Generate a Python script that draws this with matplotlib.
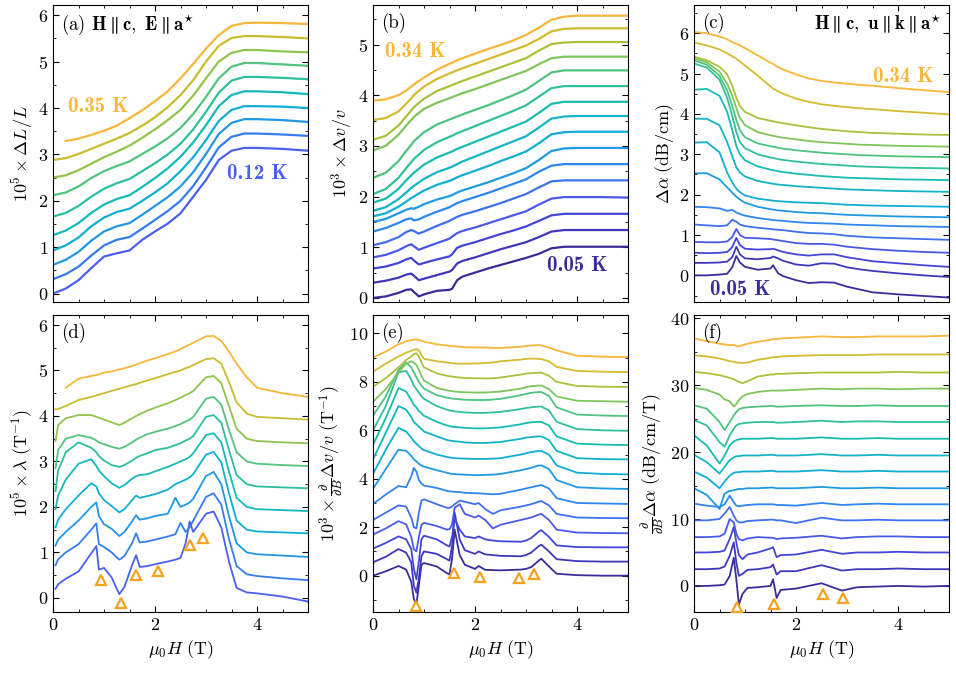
import numpy as np
import matplotlib
matplotlib.use("Agg")
import matplotlib.pyplot as plt
from matplotlib.colors import LinearSegmentedColormap
from matplotlib.ticker import MultipleLocator

nan = np.nan

# ---------------- panel (a): magnetostriction, 0.12 K ... 0.35 K
a_field = [0, 0.25, 0.5, 0.75, 1.0, 1.25, 1.5, 1.75, 2.0, 2.25, 2.5, 2.75, 3.0, 3.25, 3.5, 3.75, 4.0, 4.5, 5.0]
a_curves = [
    [0.00, 0.11, 0.29, 0.55, 0.80, 0.87, 0.93, 1.16, 1.34, 1.51, 1.73, 2.09, 2.45, 2.88, 3.08, 3.14, 3.14, 3.12, 3.08],
    [0.31, 0.42, 0.58, 0.82, 1.04, 1.16, 1.22, 1.40, 1.59, 1.78, 2.00, 2.32, 2.72, 3.15, 3.38, 3.45, 3.45, 3.43, 3.40],
    [0.62, 0.73, 0.90, 1.14, 1.34, 1.45, 1.52, 1.70, 1.89, 2.08, 2.31, 2.62, 3.01, 3.44, 3.68, 3.76, 3.76, 3.74, 3.70],
    [0.93, 1.04, 1.21, 1.45, 1.64, 1.76, 1.83, 2.00, 2.18, 2.38, 2.64, 2.94, 3.31, 3.72, 3.96, 4.04, 4.04, 4.03, 4.00],
    [1.26, 1.36, 1.52, 1.74, 1.92, 2.04, 2.12, 2.30, 2.49, 2.70, 2.95, 3.26, 3.63, 4.04, 4.28, 4.36, 4.36, 4.34, 4.30],
    [1.66, 1.74, 1.89, 2.09, 2.26, 2.38, 2.47, 2.64, 2.81, 3.00, 3.23, 3.54, 3.92, 4.33, 4.59, 4.67, 4.67, 4.65, 4.62],
    [2.12, 2.18, 2.31, 2.49, 2.64, 2.75, 2.85, 3.01, 3.17, 3.35, 3.57, 3.87, 4.24, 4.64, 4.89, 4.97, 4.97, 4.94, 4.91],
    [2.50, 2.55, 2.66, 2.80, 2.94, 3.06, 3.19, 3.36, 3.54, 3.74, 3.96, 4.27, 4.64, 5.00, 5.19, 5.25, 5.25, 5.22, 5.20],
    [2.88, 2.92, 3.01, 3.12, 3.23, 3.34, 3.46, 3.62, 3.80, 4.02, 4.28, 4.60, 5.00, 5.34, 5.51, 5.55, 5.55, 5.53, 5.50],
    [nan, 3.29, 3.34, 3.42, 3.51, 3.62, 3.78, 3.95, 4.15, 4.36, 4.64, 4.95, 5.28, 5.57, 5.77, 5.83, 5.84, 5.83, 5.81],
]

# ---------------- panel (b): sound velocity, 0.05 K ... 0.34 K
b_field = [0, 0.25, 0.5, 0.65, 0.75, 0.8, 0.9, 1.0, 1.25, 1.5, 1.55, 1.65, 1.75, 2.0, 2.25, 2.5, 2.75, 3.0, 3.25, 3.5, 3.75, 4.0, 4.5, 5.0]
b_curves = [
    [0.00, 0.03, 0.10, 0.16, 0.17, 0.12, 0.03, 0.07, 0.14, 0.16, 0.18, 0.35, 0.42, 0.50, 0.58, 0.65, 0.72, 0.79, 0.87, 0.98, 1.01, 1.01, 1.01, 1.01],
    [0.30, 0.34, 0.40, 0.46, 0.48, 0.44, 0.35, 0.38, 0.45, 0.52, 0.55, 0.68, 0.73, 0.80, 0.88, 0.96, 1.03, 1.10, 1.20, 1.31, 1.34, 1.34, 1.34, 1.34],
    [0.58, 0.62, 0.69, 0.76, 0.79, 0.74, 0.66, 0.69, 0.76, 0.82, 0.86, 0.99, 1.03, 1.10, 1.18, 1.26, 1.33, 1.41, 1.52, 1.63, 1.66, 1.66, 1.66, 1.66],
    [0.80, 0.85, 0.94, 1.02, 1.06, 1.02, 0.95, 0.99, 1.08, 1.17, 1.21, 1.28, 1.32, 1.39, 1.47, 1.55, 1.63, 1.71, 1.84, 1.96, 1.99, 1.99, 1.99, 1.98],
    [1.04, 1.10, 1.20, 1.30, 1.34, 1.32, 1.27, 1.31, 1.42, 1.52, 1.55, 1.60, 1.64, 1.71, 1.79, 1.87, 1.96, 2.05, 2.18, 2.30, 2.32, 2.32, 2.32, 2.32],
    [1.31, 1.38, 1.48, 1.55, 1.57, 1.53, 1.55, 1.60, 1.70, 1.79, 1.82, 1.87, 1.91, 1.99, 2.07, 2.16, 2.25, 2.34, 2.49, 2.61, 2.64, 2.64, 2.64, 2.64],
    [1.50, 1.56, 1.67, 1.74, 1.77, 1.76, 1.80, 1.85, 1.94, 2.01, 2.03, 2.08, 2.12, 2.20, 2.28, 2.37, 2.46, 2.56, 2.72, 2.90, 2.95, 2.96, 2.96, 2.96],
    [1.61, 1.67, 1.80, 1.90, 1.97, 2.00, 2.06, 2.12, 2.23, 2.31, 2.33, 2.38, 2.42, 2.51, 2.60, 2.70, 2.79, 2.89, 3.05, 3.23, 3.27, 3.28, 3.28, 3.28],
    [1.72, 1.79, 1.95, 2.08, 2.17, 2.21, 2.28, 2.35, 2.48, 2.57, 2.59, 2.64, 2.69, 2.79, 2.89, 2.99, 3.09, 3.19, 3.36, 3.54, 3.58, 3.59, 3.59, 3.59],
    [1.88, 1.96, 2.15, 2.32, 2.42, 2.47, 2.55, 2.63, 2.77, 2.87, 2.89, 2.94, 2.98, 3.08, 3.18, 3.28, 3.38, 3.48, 3.65, 3.83, 3.87, 3.87, 3.87, 3.87],
    [2.05, 2.15, 2.37, 2.56, 2.68, 2.74, 2.83, 2.92, 3.07, 3.18, 3.20, 3.25, 3.29, 3.39, 3.49, 3.59, 3.69, 3.80, 3.97, 4.14, 4.18, 4.18, 4.18, 4.18],
    [2.37, 2.47, 2.70, 2.90, 3.02, 3.09, 3.18, 3.27, 3.42, 3.52, 3.54, 3.58, 3.62, 3.71, 3.80, 3.90, 4.00, 4.11, 4.28, 4.45, 4.49, 4.49, 4.49, 4.49],
    [2.91, 3.00, 3.22, 3.40, 3.51, 3.57, 3.65, 3.73, 3.85, 3.94, 3.96, 4.00, 4.04, 4.12, 4.21, 4.30, 4.39, 4.48, 4.61, 4.73, 4.76, 4.76, 4.76, 4.76],
    [3.12, 3.20, 3.40, 3.58, 3.70, 3.76, 3.85, 3.93, 4.08, 4.18, 4.20, 4.24, 4.28, 4.37, 4.46, 4.55, 4.64, 4.73, 4.88, 5.01, 5.04, 5.05, 5.05, 5.05],
    [3.51, 3.55, 3.68, 3.83, 3.94, 4.00, 4.09, 4.17, 4.32, 4.43, 4.45, 4.49, 4.53, 4.62, 4.71, 4.80, 4.89, 4.98, 5.11, 5.26, 5.31, 5.32, 5.32, 5.32],
    [3.89, 3.92, 4.00, 4.09, 4.17, 4.21, 4.28, 4.35, 4.50, 4.62, 4.64, 4.69, 4.73, 4.82, 4.91, 4.99, 5.08, 5.19, 5.33, 5.49, 5.55, 5.57, 5.57, 5.57],
]

# ---------------- panel (c): sound attenuation
c_field = [0, 0.25, 0.5, 0.65, 0.75, 0.83, 0.9, 1.0, 1.25, 1.5, 1.55, 1.65, 1.75, 2.0, 2.25, 2.5, 2.75, 3.0, 3.25, 3.5, 4.0, 4.5, 5.0]
c_curves = [
    [0.00, 0.00, 0.02, 0.04, 0.20, 0.48, 0.32, 0.21, 0.14, 0.17, 0.25, 0.05, -0.02, -0.12, -0.19, -0.17, -0.18, -0.28, -0.35, -0.42, -0.47, -0.51, -0.55],
    [0.31, 0.31, 0.32, 0.34, 0.45, 0.71, 0.52, 0.42, 0.40, 0.43, 0.47, 0.42, 0.36, 0.27, 0.24, 0.30, 0.29, 0.20, 0.15, 0.11, 0.05, 0.00, -0.04],
    [0.56, 0.55, 0.56, 0.58, 0.70, 0.93, 0.75, 0.66, 0.64, 0.65, 0.66, 0.62, 0.58, 0.52, 0.49, 0.52, 0.52, 0.45, 0.40, 0.35, 0.30, 0.25, 0.21],
    [0.83, 0.82, 0.82, 0.84, 0.95, 1.15, 1.00, 0.93, 0.92, 0.90, 0.89, 0.87, 0.85, 0.80, 0.78, 0.78, 0.76, 0.71, 0.68, 0.65, 0.61, 0.58, 0.56],
    [1.26, 1.24, 1.22, 1.24, 1.38, 1.33, 1.26, 1.22, 1.18, 1.15, 1.14, 1.13, 1.12, 1.08, 1.05, 1.04, 1.02, 0.98, 0.96, 0.94, 0.92, 0.90, 0.88],
    [1.70, 1.69, 1.66, 1.60, 1.62, 1.56, 1.52, 1.48, 1.42, 1.38, 1.37, 1.36, 1.35, 1.32, 1.30, 1.29, 1.28, 1.26, 1.25, 1.24, 1.22, 1.21, 1.20],
    [2.53, 2.53, 2.38, 2.18, 2.05, 1.95, 1.88, 1.80, 1.70, 1.64, 1.63, 1.61, 1.60, 1.57, 1.55, 1.54, 1.52, 1.50, 1.49, 1.48, 1.46, 1.45, 1.44],
    [3.29, 3.30, 3.05, 2.55, 2.30, 2.15, 2.06, 1.98, 1.90, 1.86, 1.85, 1.84, 1.83, 1.81, 1.80, 1.79, 1.77, 1.75, 1.74, 1.73, 1.72, 1.71, 1.70],
    [3.88, 3.88, 3.72, 3.30, 2.95, 2.68, 2.55, 2.45, 2.34, 2.28, 2.27, 2.25, 2.24, 2.21, 2.19, 2.17, 2.15, 2.13, 2.12, 2.11, 2.09, 2.08, 2.07],
    [4.60, 4.62, 4.45, 4.05, 3.60, 3.20, 3.00, 2.85, 2.70, 2.62, 2.61, 2.58, 2.56, 2.52, 2.49, 2.46, 2.44, 2.42, 2.41, 2.40, 2.38, 2.37, 2.36],
    [5.25, 5.15, 4.85, 4.40, 3.95, 3.55, 3.30, 3.15, 3.00, 2.92, 2.91, 2.88, 2.86, 2.82, 2.79, 2.76, 2.74, 2.72, 2.70, 2.69, 2.67, 2.66, 2.65],
    [5.33, 5.22, 4.95, 4.58, 4.20, 3.85, 3.60, 3.42, 3.27, 3.20, 3.19, 3.16, 3.14, 3.10, 3.07, 3.04, 3.02, 3.00, 2.98, 2.97, 2.95, 2.94, 2.93],
    [5.38, 5.28, 5.05, 4.75, 4.45, 4.15, 3.90, 3.72, 3.55, 3.47, 3.46, 3.43, 3.41, 3.37, 3.33, 3.30, 3.28, 3.26, 3.24, 3.23, 3.21, 3.20, 3.19],
    [5.42, 5.33, 5.17, 4.98, 4.70, 4.40, 4.20, 4.05, 3.90, 3.83, 3.82, 3.79, 3.77, 3.72, 3.67, 3.63, 3.60, 3.57, 3.55, 3.53, 3.51, 3.49, 3.48],
    [5.77, 5.70, 5.60, 5.50, 5.43, 5.37, 5.30, 5.20, 4.95, 4.68, 4.63, 4.56, 4.50, 4.38, 4.30, 4.24, 4.20, 4.17, 4.14, 4.12, 4.07, 4.03, 3.99],
    [6.03, 6.00, 5.92, 5.85, 5.78, 5.74, 5.70, 5.63, 5.45, 5.27, 5.24, 5.16, 5.10, 4.98, 4.88, 4.82, 4.78, 4.75, 4.72, 4.70, 4.64, 4.59, 4.54],
]

# ---------------- panel (d): magnetostriction coefficient
d_field = [0.05, 0.1, 0.25, 0.5, 0.75, 0.85, 0.9, 1.0, 1.15, 1.3, 1.4, 1.55, 1.63, 1.7, 1.85, 2.0, 2.25, 2.4, 2.5, 2.6, 2.68, 2.75, 3.0, 3.15, 3.3, 3.45, 3.6, 3.8, 4.0, 4.5, 5.0]
d_curves = [
    [0.20, 0.30, 0.42, 0.58, 0.98, 1.14, 0.62, 0.66, 0.45, 0.08, 0.24, 0.72, 0.94, 0.68, 0.70, 0.74, 0.80, 0.84, 0.88, 1.20, 1.68, 1.45, 1.85, 1.90, 1.55, 0.80, 0.22, 0.12, 0.10, 0.03, -0.08],
    [0.72, 0.85, 1.00, 1.18, 1.50, 1.64, 1.18, 1.12, 1.00, 0.84, 0.92, 1.20, 1.42, 1.22, 1.24, 1.28, 1.35, 1.40, 1.65, 1.45, 1.55, 1.70, 2.22, 2.30, 2.05, 1.30, 0.70, 0.52, 0.48, 0.43, 0.39],
    [1.15, 1.28, 1.45, 1.70, 2.00, 2.10, 1.80, 1.62, 1.52, 1.36, 1.45, 1.68, 1.82, 1.72, 1.75, 1.80, 1.85, 2.20, 2.00, 2.05, 2.10, 2.18, 2.68, 2.77, 2.50, 1.80, 1.20, 1.00, 0.96, 0.93, 0.90],
    [1.55, 1.72, 1.95, 2.25, 2.52, 2.45, 2.30, 2.15, 2.02, 1.88, 1.95, 2.15, 2.25, 2.20, 2.24, 2.28, 2.38, 2.50, 2.55, 2.60, 2.65, 2.72, 3.15, 3.21, 2.98, 2.30, 1.70, 1.50, 1.46, 1.44, 1.42],
    [1.95, 2.25, 2.60, 2.95, 3.05, 2.90, 2.80, 2.68, 2.52, 2.42, 2.48, 2.62, 2.68, 2.70, 2.72, 2.78, 2.88, 2.95, 3.00, 3.05, 3.10, 3.18, 3.58, 3.62, 3.42, 2.78, 2.20, 2.00, 1.95, 1.93, 1.91],
    [2.35, 2.80, 3.20, 3.42, 3.30, 3.20, 3.12, 3.02, 2.92, 2.88, 2.92, 3.02, 3.08, 3.12, 3.18, 3.25, 3.30, 3.36, 3.40, 3.46, 3.50, 3.56, 3.98, 4.02, 3.85, 3.25, 2.70, 2.50, 2.45, 2.43, 2.41],
    [2.85, 3.25, 3.50, 3.58, 3.52, 3.46, 3.42, 3.38, 3.32, 3.28, 3.32, 3.42, 3.48, 3.52, 3.60, 3.65, 3.72, 3.78, 3.82, 3.88, 3.92, 3.98, 4.38, 4.42, 4.25, 3.70, 3.20, 3.00, 2.95, 2.92, 2.90],
    [3.45, 3.80, 3.95, 4.02, 4.02, 3.98, 3.96, 3.92, 3.86, 3.80, 3.85, 3.95, 4.00, 4.04, 4.12, 4.18, 4.28, 4.35, 4.40, 4.46, 4.50, 4.55, 4.85, 4.88, 4.72, 4.22, 3.72, 3.50, 3.45, 3.42, 3.40],
    [4.15, 4.15, 4.22, 4.35, 4.42, 4.45, 4.47, 4.50, 4.55, 4.60, 4.63, 4.68, 4.70, 4.73, 4.78, 4.83, 4.92, 4.97, 5.00, 5.05, 5.08, 5.12, 5.25, 5.27, 5.15, 4.75, 4.30, 4.05, 3.98, 3.95, 3.92],
    [nan, nan, 4.62, 4.82, 4.88, 4.90, 4.92, 4.95, 4.98, 5.02, 5.05, 5.10, 5.13, 5.16, 5.22, 5.27, 5.36, 5.42, 5.47, 5.53, 5.57, 5.61, 5.75, 5.76, 5.65, 5.42, 5.15, 4.85, 4.62, 4.50, 4.42],
]
d_marks_x = [0.94, 1.33, 1.63, 2.06, 2.68, 2.94]
d_marks_y = [0.40, -0.11, 0.51, 0.59, 1.16, 1.31]

# ---------------- panel (e): field derivative of sound velocity
e_field = [0, 0.25, 0.5, 0.65, 0.75, 0.8, 0.85, 0.9, 0.95, 1.0, 1.25, 1.45, 1.5, 1.55, 1.6, 1.7, 1.8, 2.0, 2.07, 2.2, 2.35, 2.5, 2.9, 3.0, 3.1, 3.25, 3.3, 3.45, 3.6, 4.0, 4.5, 5.0]
e_curves = [
    [0.00, 0.18, 0.40, 0.25, -0.25, -0.95, -1.20, -0.40, 0.45, 0.52, 0.38, 0.10, 0.05, 0.70, 1.90, 0.85, 0.45, 0.28, 0.40, 0.24, 0.23, 0.22, 0.25, 0.28, 0.35, 0.62, 0.70, 0.38, 0.08, 0.02, 0.00, 0.00],
    [0.55, 0.78, 1.10, 0.95, 0.55, -0.40, -0.70, -0.10, 0.80, 1.00, 0.90, 0.68, 0.62, 1.20, 2.60, 1.50, 1.05, 0.90, 1.00, 0.88, 0.85, 0.82, 0.80, 0.85, 0.95, 1.22, 1.28, 1.00, 0.68, 0.60, 0.58, 0.58],
    [1.12, 1.35, 1.62, 1.50, 1.10, 0.30, -0.15, 0.60, 1.50, 1.65, 1.50, 1.25, 1.20, 1.60, 2.35, 1.90, 1.62, 1.55, 1.62, 1.50, 1.45, 1.42, 1.40, 1.45, 1.55, 1.82, 1.88, 1.60, 1.25, 1.18, 1.17, 1.17],
    [1.70, 1.95, 2.25, 2.12, 1.60, 1.10, 1.00, 1.60, 2.10, 2.18, 2.05, 1.90, 1.92, 2.10, 2.80, 2.95, 2.55, 2.40, 2.48, 2.30, 1.95, 2.10, 2.30, 2.35, 2.40, 2.52, 2.55, 2.30, 1.90, 1.78, 1.76, 1.75],
    [2.30, 2.60, 2.90, 2.85, 2.40, 2.00, 1.95, 2.60, 3.10, 3.15, 2.95, 2.80, 2.80, 2.85, 2.95, 3.10, 3.05, 2.95, 3.00, 2.75, 2.55, 2.70, 2.85, 2.90, 2.95, 3.05, 3.08, 2.90, 2.55, 2.40, 2.38, 2.37],
    [2.96, 3.35, 3.70, 3.65, 4.10, 4.45, 4.30, 3.95, 3.80, 3.72, 3.62, 3.50, 3.48, 3.47, 3.46, 3.45, 3.42, 3.40, 3.40, 3.38, 3.36, 3.38, 3.55, 3.60, 3.65, 3.72, 3.74, 3.60, 3.20, 3.00, 2.98, 2.96],
    [3.58, 4.40, 5.20, 5.15, 4.95, 4.80, 4.72, 4.62, 4.55, 4.50, 4.35, 4.25, 4.22, 4.20, 4.19, 4.18, 4.17, 4.15, 4.15, 4.16, 4.17, 4.20, 4.35, 4.40, 4.45, 4.55, 4.55, 4.40, 3.95, 3.65, 3.60, 3.58],
    [4.20, 5.20, 6.10, 5.95, 5.70, 5.55, 5.45, 5.35, 5.25, 5.18, 5.00, 4.90, 4.88, 4.86, 4.85, 4.84, 4.83, 4.82, 4.82, 4.82, 4.83, 4.85, 5.00, 5.05, 5.10, 5.15, 5.15, 5.00, 4.55, 4.25, 4.20, 4.18],
    [4.80, 5.90, 7.00, 6.85, 6.55, 6.35, 6.25, 6.15, 6.05, 5.95, 5.75, 5.60, 5.58, 5.56, 5.55, 5.53, 5.50, 5.48, 5.48, 5.48, 5.50, 5.52, 5.65, 5.70, 5.72, 5.75, 5.75, 5.60, 5.15, 4.85, 4.81, 4.80],
    [5.40, 6.50, 7.75, 7.60, 7.25, 7.05, 6.95, 6.80, 6.70, 6.60, 6.35, 6.20, 6.17, 6.15, 6.14, 6.12, 6.10, 6.08, 6.08, 6.08, 6.10, 6.12, 6.25, 6.30, 6.33, 6.35, 6.35, 6.20, 5.75, 5.45, 5.41, 5.39],
    [6.00, 7.00, 8.40, 8.45, 8.10, 7.85, 7.70, 7.55, 7.40, 7.30, 7.00, 6.85, 6.82, 6.80, 6.78, 6.76, 6.74, 6.72, 6.72, 6.72, 6.74, 6.76, 6.88, 6.92, 6.95, 6.98, 6.98, 6.82, 6.35, 6.05, 6.00, 5.98],
    [6.60, 7.40, 8.50, 8.80, 8.60, 8.40, 8.20, 8.00, 7.85, 7.72, 7.45, 7.35, 7.33, 7.31, 7.30, 7.28, 7.26, 7.25, 7.25, 7.25, 7.27, 7.30, 7.45, 7.50, 7.55, 7.58, 7.58, 7.42, 6.95, 6.65, 6.61, 6.59],
    [7.18, 7.70, 8.40, 8.75, 8.85, 8.80, 8.70, 8.50, 8.25, 8.05, 7.75, 7.65, 7.63, 7.62, 7.60, 7.58, 7.57, 7.56, 7.56, 7.56, 7.58, 7.60, 7.72, 7.78, 7.82, 7.85, 7.85, 7.70, 7.40, 7.22, 7.20, 7.18],
    [7.80, 8.15, 8.60, 8.90, 9.05, 9.15, 9.18, 9.05, 8.80, 8.60, 8.35, 8.25, 8.23, 8.22, 8.20, 8.18, 8.16, 8.15, 8.15, 8.14, 8.15, 8.18, 8.30, 8.34, 8.36, 8.38, 8.38, 8.25, 8.00, 7.83, 7.80, 7.79],
    [8.42, 8.75, 9.05, 9.20, 9.28, 9.32, 9.35, 9.30, 9.10, 8.95, 8.85, 8.80, 8.78, 8.77, 8.76, 8.75, 8.75, 8.76, 8.76, 8.78, 8.80, 8.85, 8.92, 8.95, 8.96, 8.95, 8.94, 8.85, 8.62, 8.45, 8.42, 8.40],
    [9.00, 9.25, 9.55, 9.68, 9.72, 9.74, 9.75, 9.73, 9.70, 9.66, 9.55, 9.50, 9.49, 9.48, 9.47, 9.45, 9.43, 9.42, 9.42, 9.42, 9.40, 9.40, 9.45, 9.48, 9.50, 9.52, 9.50, 9.42, 9.30, 9.08, 9.04, 9.02],
]
e_marks_x = [0.85, 1.58, 2.09, 2.87, 3.15]
e_marks_y = [-1.24, 0.10, -0.04, -0.08, 0.07]

# ---------------- panel (f): field derivative of attenuation
f_field = [0, 0.25, 0.5, 0.6, 0.7, 0.78, 0.83, 0.88, 0.95, 1.05, 1.25, 1.5, 1.55, 1.62, 1.7, 2.0, 2.5, 2.9, 3.2, 3.6, 4.0, 4.5, 5.0]
f_curves = [
    [0.0, 0.0, 0.1, 0.2, 1.5, 4.2, 1.0, -2.8, -1.2, -0.3, -0.2, 0.0, 1.0, -1.8, -0.6, -0.4, 0.4, -0.7, -0.2, -0.1, 0.0, -0.1, 0.0],
    [2.5, 2.5, 2.6, 2.9, 4.5, 6.5, 3.5, 1.5, 1.8, 2.4, 2.5, 2.8, 3.2, 1.7, 2.2, 2.2, 3.1, 2.3, 2.5, 2.5, 2.6, 2.5, 2.5],
    [5.0, 5.0, 5.1, 5.3, 7.0, 8.8, 6.5, 4.6, 4.0, 4.7, 5.0, 5.6, 5.8, 4.3, 4.6, 4.7, 5.4, 4.8, 5.0, 5.0, 5.1, 5.0, 5.0],
    [7.3, 7.3, 7.4, 7.8, 10.0, 9.5, 7.8, 7.0, 6.8, 7.1, 7.3, 7.2, 7.2, 7.0, 7.1, 7.2, 7.5, 7.1, 7.3, 7.4, 7.4, 7.3, 7.3],
    [9.8, 9.8, 10.0, 10.8, 11.8, 10.5, 9.8, 9.5, 9.5, 9.7, 9.8, 9.9, 9.9, 9.8, 9.8, 9.4, 10.2, 9.8, 9.8, 9.9, 9.8, 9.8, 9.8],
    [12.3, 12.0, 11.8, 12.2, 13.5, 12.5, 12.0, 11.9, 12.0, 12.1, 12.2, 12.2, 12.2, 12.1, 12.1, 12.0, 12.4, 12.1, 12.2, 12.3, 12.2, 12.2, 12.2],
    [14.6, 13.6, 11.5, 13.8, 14.2, 14.3, 14.4, 14.5, 14.5, 14.6, 14.6, 14.7, 14.7, 14.6, 14.6, 14.6, 14.8, 14.6, 14.6, 14.7, 14.6, 14.6, 14.6],
    [17.1, 16.2, 14.6, 15.6, 16.5, 16.9, 17.0, 17.0, 17.1, 17.1, 17.1, 17.2, 17.2, 17.1, 17.1, 17.1, 17.3, 17.1, 17.1, 17.2, 17.1, 17.1, 17.1],
    [19.6, 18.5, 16.8, 17.8, 18.8, 19.2, 19.4, 19.4, 19.5, 19.5, 19.5, 19.6, 19.6, 19.5, 19.5, 19.5, 19.7, 19.5, 19.5, 19.6, 19.5, 19.5, 19.5],
    [22.5, 21.0, 18.3, 19.5, 21.0, 21.6, 21.8, 21.9, 22.0, 22.0, 22.0, 22.1, 22.1, 22.0, 22.0, 22.0, 22.2, 22.0, 22.0, 22.1, 22.0, 22.0, 22.0],
    [24.8, 24.0, 21.5, 20.8, 22.5, 23.5, 24.0, 24.2, 24.3, 24.4, 24.5, 24.5, 24.5, 24.4, 24.4, 24.5, 24.7, 24.5, 24.6, 24.6, 24.5, 24.5, 24.5],
    [27.0, 26.5, 24.5, 23.3, 24.5, 25.5, 26.0, 26.4, 26.6, 26.7, 26.8, 26.9, 26.9, 26.8, 26.8, 26.9, 27.0, 26.9, 26.9, 27.0, 26.9, 26.9, 26.9],
    [29.6, 29.3, 28.6, 27.9, 27.6, 26.8, 27.2, 27.8, 28.3, 28.7, 29.0, 29.2, 29.2, 29.2, 29.2, 29.3, 29.5, 29.4, 29.5, 29.5, 29.4, 29.5, 29.5],
    [32.0, 31.8, 31.5, 31.3, 31.1, 30.9, 30.7, 30.5, 30.3, 30.6, 31.3, 31.6, 31.6, 31.7, 31.7, 31.8, 31.9, 31.9, 31.9, 31.9, 32.0, 31.9, 31.9],
    [34.5, 34.3, 34.0, 33.8, 33.6, 33.5, 33.4, 33.4, 33.3, 33.4, 33.8, 34.1, 34.2, 34.2, 34.3, 34.4, 34.5, 34.5, 34.5, 34.6, 34.6, 34.6, 34.6],
    [37.0, 36.6, 36.2, 36.1, 36.0, 36.0, 35.9, 35.8, 36.0, 36.2, 36.5, 36.8, 36.9, 36.9, 37.0, 37.1, 37.3, 37.2, 37.2, 37.3, 37.3, 37.3, 37.4],
]
f_marks_x = [0.85, 1.56, 2.53, 2.92]
f_marks_y = [-3.1, -2.7, -1.15, -1.74]

# ---------------------------------------------------------------- style
plt.rcParams.update({
    "font.family": "serif",
    "font.serif": ["cmr10", "DejaVu Serif"],
    "mathtext.fontset": "cm",
    "axes.unicode_minus": False,
    "axes.formatter.use_mathtext": True,
    "font.size": 12,
    "axes.linewidth": 0.8,
    "xtick.direction": "in",
    "ytick.direction": "in",
    "xtick.top": True,
    "ytick.right": True,
    "xtick.major.size": 4,
    "ytick.major.size": 4,
    "xtick.minor.size": 2,
    "ytick.minor.size": 2,
})

cmap = LinearSegmentedColormap.from_list("temps", [
    (0.00, "#3a2c9a"), (0.12, "#4341d2"), (0.22, "#4a60f0"), (0.34, "#2d88ee"),
    (0.47, "#0faed4"), (0.60, "#17bcb0"), (0.72, "#45c387"), (0.82, "#8cc552"),
    (0.90, "#c2bd2c"), (1.00, "#f8b63a"),
])
mark_col = "#f7a21b"

W, H = 956, 675
fig = plt.figure(figsize=(W / 100, H / 100), dpi=100)
cols_px = [53, 373, 694]
rows_px = [(5, 302), (315, 612)]
axes = []
for r, (top, bot) in enumerate(rows_px):
    for c, left in enumerate(cols_px):
        ax = fig.add_axes([left / W, 1 - bot / H, 255 / W, (bot - top) / H])
        axes.append(ax)
ax_a, ax_b, ax_c, ax_d, ax_e, ax_f = axes


def draw(ax, field, curves, c0, lw):
    cols = cmap(np.linspace(c0, 1.0, len(curves)))
    for ys, col in zip(curves, cols):
        ax.plot(field, np.array(ys, dtype=float), color=col, lw=lw, solid_joinstyle="round")
    return cols


ca = draw(ax_a, a_field, a_curves, 0.22, 1.6)
cb = draw(ax_b, b_field, b_curves, 0.0, 1.6)
cc = draw(ax_c, c_field, c_curves, 0.0, 1.3)
cd = draw(ax_d, d_field, d_curves, 0.22, 1.3)
ce = draw(ax_e, e_field, e_curves, 0.0, 1.3)
cf = draw(ax_f, f_field, f_curves, 0.0, 1.3)

for ax, mx, my in [(ax_d, d_marks_x, d_marks_y), (ax_e, e_marks_x, e_marks_y), (ax_f, f_marks_x, f_marks_y)]:
    ax.plot(mx, my, "^", ms=7, mfc="white", mec=mark_col, mew=1.6, ls="none", zorder=5)

limits = [(-0.18, 6.22), (-0.08, 5.78), (-0.66, 6.70), (-0.31, 6.22), (-1.5, 10.76), (-3.9, 40.5)]
ymaj = [1, 1, 1, 1, 2, 10]
ylabels = [
    r"$10^5\times\Delta L/L$",
    r"$10^3\times\Delta v/v$",
    r"$\Delta\alpha\ (\mathrm{dB/cm})$",
    r"$10^5\times\lambda\ (\mathrm{T}^{-1})$",
    r"$10^3\times\frac{\partial}{\partial B}\Delta v/v\ (\mathrm{T}^{-1})$",
    r"$\frac{\partial}{\partial B}\Delta\alpha\ (\mathrm{dB/cm/T})$",
]
tags = ["(a)", "(b)", "(c)", "(d)", "(e)", "(f)"]
for i, ax in enumerate(axes):
    ax.set_xlim(0, 5)
    ax.set_ylim(*limits[i])
    ax.xaxis.set_major_locator(MultipleLocator(2))
    ax.xaxis.set_minor_locator(MultipleLocator(0.5))
    ax.yaxis.set_major_locator(MultipleLocator(ymaj[i]))
    ax.yaxis.set_minor_locator(MultipleLocator(ymaj[i] / 2))
    ax.tick_params(which="both", direction="in", top=True, right=True, labelsize=13)
    ax.set_ylabel(ylabels[i], fontsize=13, labelpad=2)
    if i < 3:
        ax.tick_params(labelbottom=False)
    else:
        ax.set_xlabel(r"$\mu_0H\ (\mathrm{T})$", fontsize=13, labelpad=4)

ax_a.text(0.03, 0.975, r"(a) $\mathbf{H}\parallel\mathbf{c},\ \mathbf{E}\parallel\mathbf{a}^{\star}$",
          transform=ax_a.transAxes, ha="left", va="top", fontsize=13.5)
for ax, t in zip(axes[1:], tags[1:]):
    ax.text(0.03, 0.975, t, transform=ax.transAxes, ha="left", va="top", fontsize=13.5)
ax_c.text(0.97, 0.975, r"$\mathbf{H}\parallel\mathbf{c},\ \mathbf{u}\parallel\mathbf{k}\parallel\mathbf{a}^{\star}$",
          transform=ax_c.transAxes, ha="right", va="top", fontsize=13.5)

bold = dict(family="cmb10", fontsize=15, va="center")
ax_a.text(0.30, 4.03, "0.35 K", color=ca[-1], **bold)
ax_a.text(3.42, 2.59, "0.12 K", color=ca[0], **bold)
ax_b.text(0.23, 4.86, "0.34 K", color=cb[-1], **bold)
ax_b.text(3.42, 0.64, "0.05 K", color=cb[0], **bold)
ax_c.text(3.50, 4.93, "0.34 K", color=cc[-1], **bold)
ax_c.text(0.31, -0.36, "0.05 K", color=cc[0], **bold)

fig.savefig("out.png", dpi=100)
